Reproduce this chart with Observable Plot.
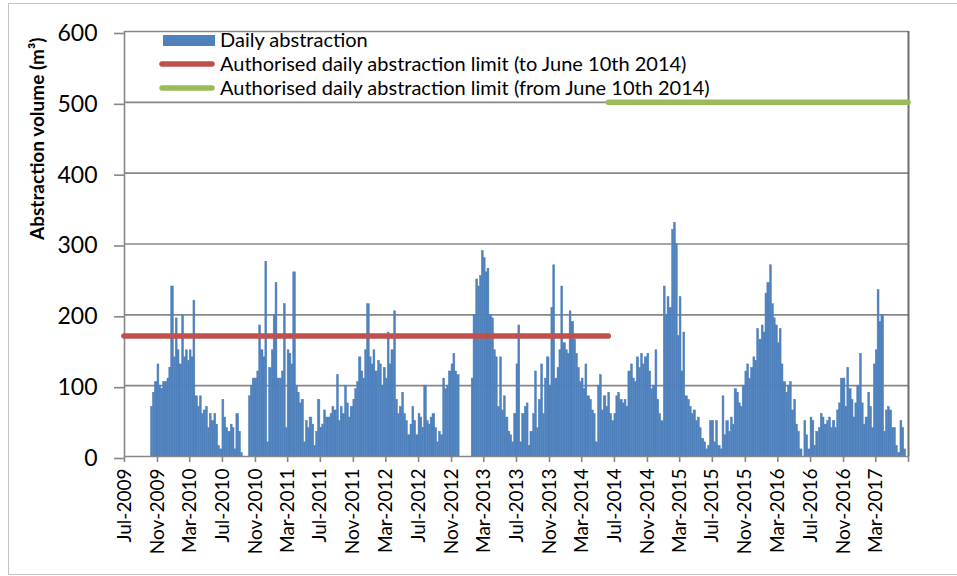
<!DOCTYPE html>
<html><head><meta charset="utf-8">
<script src="https://cdn.jsdelivr.net/npm/d3@7"></script>
<script src="https://cdn.jsdelivr.net/npm/@observablehq/plot@0.6"></script>
<style>
body{margin:0;background:#fff;}
#wrap{position:relative;width:957px;height:576px;overflow:hidden;font-family:Lato,sans-serif;}
#frame{position:absolute;left:8px;top:3px;width:960px;height:572px;border:1px solid #c4c4c4;box-sizing:border-box;}
#chart{position:absolute;left:0;top:0;}
#chart svg{display:block;}
.lg{position:absolute;left:0;height:24px;line-height:24px;font-size:20px;color:#000;white-space:nowrap;}
.lg svg{position:absolute;top:0;}
.lg span{position:absolute;left:220px;top:-1px;}
</style></head><body>
<div id="wrap"><div id="frame"></div><div id="chart"></div><div id="legend"></div></div>
<script>
// ---- data: approximate weekly abstraction (m3/day), 4 values per month ----
const startMonth2009 = "2009-10";
const weekly2009 = [0,70,90,105, 130,100,95,105, 105,110,125,240];
const weekly2010 = [140,195,150,130, 200,140,150,135, 150,140,220,85, 70,85,60,65, 70,40,60,50, 60,45,15,10, 80,55,40,35, 45,40,10,60, 35,5,0,0, 0,85,100,110, 110,120,185,150, 140,275,20,125];
const weekly2011 = [150,200,245,110, 110,120,215,40, 150,145,130,260, 100,90,75,80, 20,50,40,55, 45,15,35,80, 40,45,65,55, 55,60,70,65, 115,50,70,60, 100,75,55,70, 80,95,105,140, 120,110,150,215];
const weekly2012 = [140,130,150,120, 135,130,100,125, 110,175,130,150, 205,80,60,70, 90,60,50,30, 45,70,50,30, 60,55,40,100, 50,45,55,60, 40,20,35,30, 110,95,100,120, 130,145,120,115, 0,0,0,0];
const weekly2013 = [0,0,110,200, 250,240,255,290, 280,260,265,200, 195,150,140,70, 140,65,85,55, 35,30,20,60, 130,185,20,60, 70,75,15,35, 60,120,40,80, 130,60,110,140, 100,210,270,110, 125,150,240,160];
const weekly2014 = [150,145,205,190, 165,145,125,105, 110,95,130,85, 80,65,60,20, 100,115,65,85, 70,90,60,50, 60,85,90,80, 75,80,70,120, 130,110,105,140, 125,145,130,140, 145,120,95,100, 150,80,60,50];
const weekly2015 = [240,200,225,210, 320,330,300,170, 225,120,175,85, 80,70,60,65, 50,55,40,25, 20,10,15,50, 50,20,50,15, 10,85,30,50, 35,55,45,95, 90,75,70,100, 120,130,110,125, 140,135,180,165];
const weekly2016 = [185,175,230,245, 270,215,195,185, 160,180,130,105, 90,100,105,65, 80,45,35,10, 0,50,30,10, 55,50,15,35, 40,60,55,45, 50,55,40,50, 40,65,75,110, 110,70,125,95, 80,55,75,100];
const weekly2017 = [145,75,45,55, 90,70,40,130, 150,235,190,200, 35,65,70,65, 40,40,15,5, 50,40,10,0];

const limitLabels = ["Authorised daily abstraction limit (to June 10th 2014)", "Authorised daily abstraction limit (from June 10th 2014)"];
const limitValues = [170, 500];
const limitFrom = ["2009-07-01", "2014-06-10"];
const limitTo = ["2014-06-10", "2017-07-01"];
const limitColors = ["#c0504d", "#9bbb59"];
const barLabel = "Daily abstraction";
const barColor = "#4f81bd";

const tickLabels = ["Jul-2009","Nov-2009","Mar-2010","Jul-2010","Nov-2010","Mar-2011","Jul-2011","Nov-2011","Mar-2012","Jul-2012","Nov-2012","Mar-2013","Jul-2013","Nov-2013","Mar-2014","Jul-2014","Nov-2014","Mar-2015","Jul-2015","Nov-2015","Mar-2016","Jul-2016","Nov-2016","Mar-2017"];
const axisEnd = "Jul-2017";
const yTicks = [0,100,200,300,400,500,600];
const yTitle = "Abstraction volume (m³)";

// ---- build rows ----
const rows = [];
function addSeries(firstMonth, values) {
  const [yy, mm] = firstMonth.split("-").map(Number);
  values.forEach((v, i) => {
    const mo = mm - 1 + Math.floor(i / 4), q = i % 4;
    const start = new Date(Date.UTC(yy, mo, 1 + 7 * q));
    const end = q < 3 ? new Date(Date.UTC(yy, mo, 1 + 7 * (q + 1))) : new Date(Date.UTC(yy, mo + 1, 1));
    rows.push({start, end, value: v});
  });
}
addSeries(startMonth2009, weekly2009);
addSeries("2010-01", weekly2010);
addSeries("2011-01", weekly2011);
addSeries("2012-01", weekly2012);
addSeries("2013-01", weekly2013);
addSeries("2014-01", weekly2014);
addSeries("2015-01", weekly2015);
addSeries("2016-01", weekly2016);
addSeries("2017-01", weekly2017);

const parseTick = d3.utcParse("%b-%Y");
const tickDates = tickLabels.map(parseTick);
const endDate = parseTick(axisEnd);
const limits = limitValues.map((v, i) => ({value: v, from: new Date(limitFrom[i]), to: new Date(limitTo[i]), color: limitColors[i]}));
const axisColor = "#878787";

const chart = Plot.plot({
  width: 957, height: 576,
  marginLeft: 124, marginRight: 49, marginTop: 31, marginBottom: 120,
  x: {type: "utc", domain: [tickDates[0], endDate]},
  y: {domain: [0, 600]},
  style: {fontFamily: "Lato, sans-serif", background: "transparent", overflow: "visible"},
  marks: [
    Plot.ruleY(yTicks.filter(d => d > 0), {stroke: axisColor, strokeWidth: 1.6}),
    Plot.rectY(rows.filter(d => d.value > 0), {x1: "start", x2: "end", y: "value", fill: barColor, stroke: barColor, strokeWidth: 0.5}),
    Plot.ruleY([0], {stroke: axisColor, strokeWidth: 1.6}),
    Plot.ruleX([tickDates[0]], {stroke: axisColor, strokeWidth: 1.6}),
    Plot.ruleX([endDate], {stroke: "#6e6e6e", strokeWidth: 2}),
    Plot.ruleY(limits, {y: "value", x1: "from", x2: "to", stroke: "color", strokeWidth: 5.5, strokeLinecap: "round"}),
    Plot.axisY(yTicks, {tickSize: 10, tickPadding: 17, fontSize: 23, stroke: axisColor, strokeWidth: 1.6, fill: "#000", dy: 2, label: null}),
    Plot.axisX(tickDates.concat([endDate]), {tickSize: 6, tickFormat: () => "", stroke: axisColor, strokeWidth: 1.6, label: null}),
    Plot.text(tickDates, {x: d => d, text: (d, i) => tickLabels[i], frameAnchor: "bottom", rotate: -90, textAnchor: "end", lineAnchor: "middle", dy: 12, fontSize: 19, fill: "#000"}),
    Plot.text([yTitle], {frameAnchor: "left", rotate: -90, dx: -87, dy: -4, lineAnchor: "middle", fontSize: 19, fontWeight: "bold", fill: "#000"})
  ]
});
document.getElementById("chart").appendChild(chart);

// ---- legend ----
const legend = document.getElementById("legend");
const items = [{label: barLabel, kind: "bar", color: barColor}].concat(limitLabels.map((l, i) => ({label: l, kind: "line", color: limitColors[i]})));
items.forEach((it, i) => {
  const div = document.createElement("div");
  div.className = "lg";
  div.style.top = (28 + i * 24) + "px";
  div.style.width = "957px";
  const sw = it.kind === "bar"
    ? `<svg width="60" height="24" style="left:160px"><rect x="3" y="7" width="52" height="11" fill="${it.color}"/></svg>`
    : `<svg width="60" height="24" style="left:157px"><line x1="5" x2="55" y1="12" y2="12" stroke="${it.color}" stroke-width="5.5" stroke-linecap="round"/></svg>`;
  div.innerHTML = sw + `<span>${it.label}</span>`;
  legend.appendChild(div);
});
</script></body></html>
